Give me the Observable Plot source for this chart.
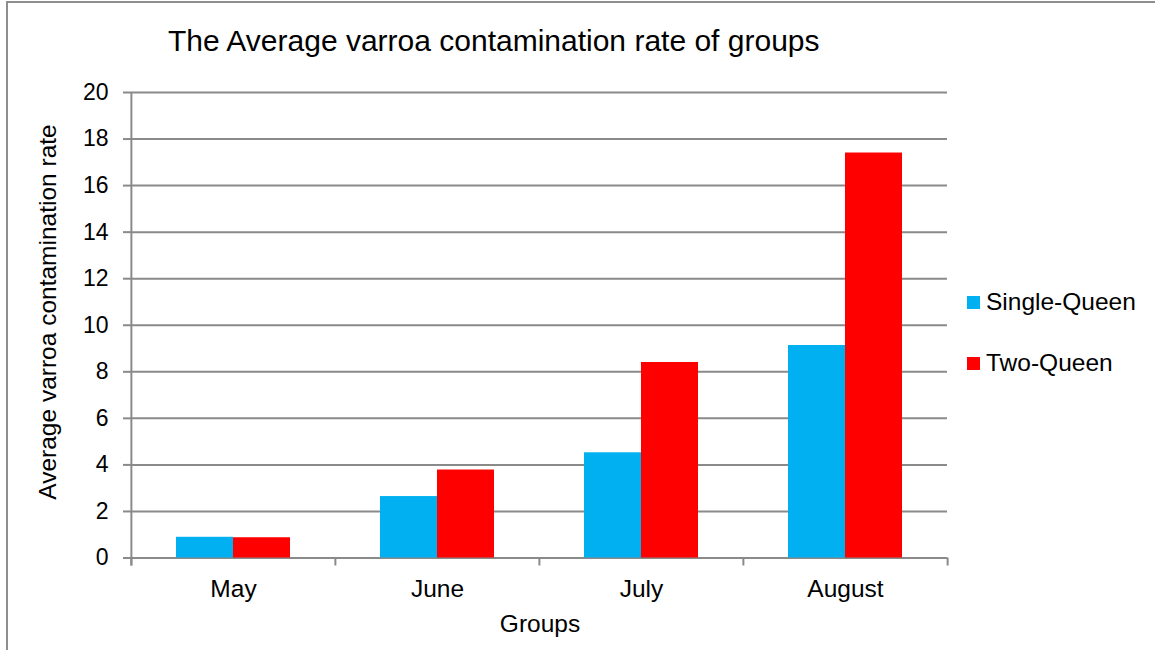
<!DOCTYPE html>
<html>
<head>
<meta charset="utf-8">
<script src="https://cdn.jsdelivr.net/npm/d3@7"></script>
<script src="https://cdn.jsdelivr.net/npm/@observablehq/plot@0.6"></script>
<style>
  html, body { margin: 0; padding: 0; background: #fff; overflow: hidden; }
  #wrap { position: relative; width: 1155px; height: 650px; overflow: hidden; font-family: "Liberation Sans", Arial, sans-serif; color: #000; }
  #border { position: absolute; left: 6px; top: 1px; width: 1300px; height: 800px; border: 2px solid #8e8e8e; box-sizing: border-box; }
  #chart { position: absolute; left: 0; top: 0; }
  .t { position: absolute; white-space: nowrap; line-height: 1; }
  .sw { position: absolute; width: 13px; height: 13px; }
</style>
</head>
<body>
<div id="wrap">
  <div id="border"></div>
  <div id="chart"></div>
  <div class="t" id="title" style="left:168px; top:26px; font-size:30px;">The Average varroa contamination rate of groups</div>
  <div class="t" id="ylab" style="left:48px; top:312px; font-size:24.5px; transform: translate(-50%,-50%) rotate(-90deg);">Average varroa contamination rate</div>
  <div class="t" id="xlab" style="left:540px; top:624px; font-size:24.5px; transform: translate(-50%,-50%);">Groups</div>
  <div id="legend"></div>
</div>
<script>
const months = ["May", "June", "July", "August"];
const series = ["Single-Queen", "Two-Queen"];
const singleQueen = [0.89, 2.64, 4.52, 9.13];
const twoQueen = [0.87, 3.78, 8.40, 17.40];
const yTicks = [0, 2, 4, 6, 8, 10, 12, 14, 16, 18, 20];
const colors = ["#00B0F0", "#FF0000"];

const rows = months.flatMap((m, i) => [
  {month: m, series: series[0], value: singleQueen[i]},
  {month: m, series: series[1], value: twoQueen[i]}
]);

const W = 1155, H = 650, ML = 130, MR = 208, MT = 92, MB = 92.5;
const fxStep = (W - ML - MR) / months.length;
const gray = "#8a8a8a";

const chart = Plot.plot({
  width: W, height: H,
  marginLeft: ML, marginRight: MR, marginTop: MT, marginBottom: MB,
  style: {fontFamily: '"Liberation Sans", Arial, sans-serif', color: "#000", background: "transparent"},
  fx: {domain: months, padding: 0, label: null},
  x: {domain: series, paddingInner: 0, paddingOuter: 0.767, axis: null},
  y: {domain: [yTicks[0], yTicks[yTicks.length - 1]], axis: null},
  color: {domain: series, range: colors},
  marks: [
    Plot.gridY(yTicks, {stroke: gray, strokeOpacity: 1, strokeWidth: 2}),
    Plot.barY(rows, {fx: "month", x: "series", y: "value", fill: "series"}),
    // y axis line (left edge of first facet), extended below the base like a tick
    Plot.ruleX([months[0]], {fx: d => d, x: null, dx: -fxStep / 2, y1: yTicks[yTicks.length - 1], y2: yTicks[0], insetBottom: -8, stroke: gray, strokeWidth: 2}),
    // category boundary ticks
    Plot.ruleX(months, {fx: d => d, x: null, dx: -fxStep / 2, y1: yTicks[0], y2: yTicks[0], insetBottom: -8, stroke: gray, strokeWidth: 2}),
    Plot.ruleX([months[months.length - 1]], {fx: d => d, x: null, dx: fxStep / 2, y1: yTicks[0], y2: yTicks[0], insetBottom: -8, stroke: gray, strokeWidth: 2}),
    Plot.axisY(yTicks, {anchor: "left", tickSize: 8, tickPadding: 15, fontSize: 23, stroke: gray, strokeWidth: 2, color: "#000", label: null}),
    Plot.axisFx({anchor: "bottom", tickSize: 0, tickPadding: 22, fontSize: 24.5, color: "#000", label: null})
  ]
});
document.getElementById("chart").appendChild(chart);

const legend = document.getElementById("legend");
const legendY = [302, 363];
series.forEach((s, i) => {
  const sw = document.createElement("div");
  sw.className = "sw";
  sw.style.left = "967px";
  sw.style.top = (legendY[i] - 6.5) + "px";
  sw.style.background = colors[i];
  legend.appendChild(sw);
  const t = document.createElement("div");
  t.className = "t";
  t.style.left = "986px";
  t.style.top = legendY[i] + "px";
  t.style.fontSize = "24.5px";
  t.style.transform = "translateY(-50%)";
  t.textContent = s;
  legend.appendChild(t);
});
</script>
</body>
</html>
